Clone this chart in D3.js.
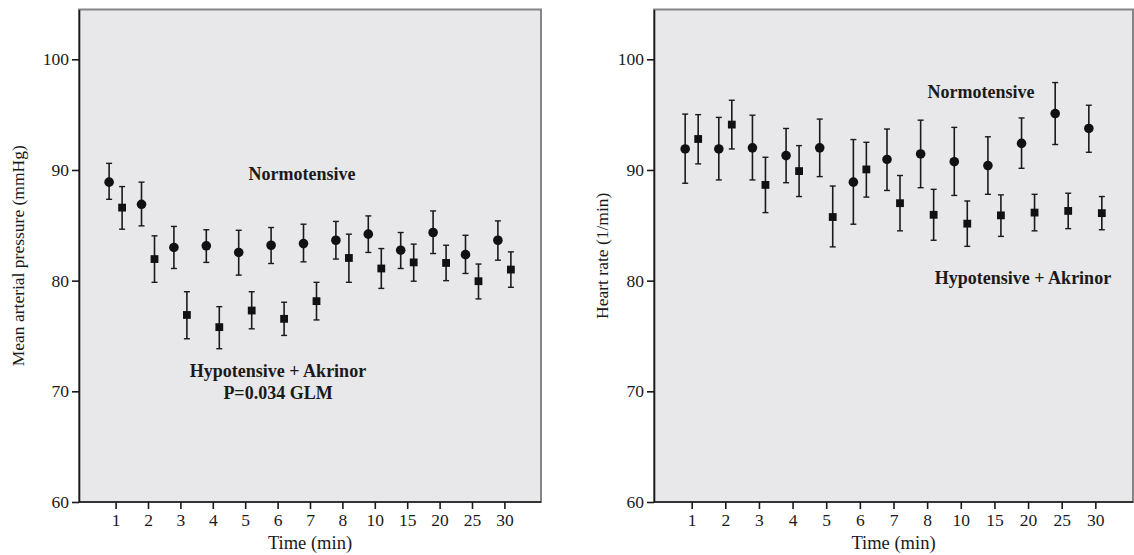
<!DOCTYPE html>
<html lang="en">
<head>
    <meta charset="UTF-8">
    <title>MAP and heart rate</title>
    <script src="https://d3js.org/d3.v7.min.js"></script>
    <style>
        body { margin: 0; background: #ffffff; }
        svg text { font-family: "Liberation Serif", "Times New Roman", serif; fill: #1a1a1a; }
        .tick line, .domain { stroke: #1a1a1a; }
    </style>
</head>
<body>
<div id="chart"></div>
<script>
    // time points (min)
    const times = ['1', '2', '3', '4', '5', '6', '7', '8', '10', '15', '20', '25', '30'];
    const yTicks = [60, 70, 80, 90, 100];

    // mean arterial pressure (mmHg): mean, lower, upper
    const mapNormo = [88.9, 86.9, 83.0, 83.15, 82.55, 83.2, 83.35, 83.65, 84.2, 82.75, 84.35, 82.35, 83.65];
    const mapNormoLo = [87.35, 84.95, 81.1, 81.65, 80.5, 81.55, 81.7, 81.95, 82.55, 81.1, 82.45, 80.65, 81.85];
    const mapNormoHi = [90.6, 88.9, 84.9, 84.6, 84.55, 84.8, 85.1, 85.35, 85.85, 84.35, 86.3, 84.1, 85.4];
    const mapHypo = [86.6, 81.95, 76.9, 75.8, 77.3, 76.55, 78.15, 82.05, 81.1, 81.65, 81.6, 79.95, 81.0];
    const mapHypoLo = [84.65, 79.85, 74.75, 73.85, 75.65, 75.05, 76.45, 79.85, 79.3, 79.95, 80.0, 78.35, 79.4];
    const mapHypoHi = [88.5, 84.05, 79.0, 77.65, 79.0, 78.05, 79.85, 84.2, 82.9, 83.3, 83.2, 81.5, 82.6];

    // heart rate (1/min): mean, lower, upper
    const hrNormo = [91.9, 91.9, 92.0, 91.3, 92.0, 88.9, 90.95, 91.45, 90.75, 90.4, 92.4, 95.1, 93.75];
    const hrNormoLo = [88.8, 89.1, 89.1, 88.85, 89.4, 85.1, 88.15, 88.4, 87.7, 87.8, 90.15, 92.3, 91.6];
    const hrNormoHi = [95.05, 94.75, 94.95, 93.75, 94.6, 92.75, 93.7, 94.5, 93.85, 93.0, 94.7, 97.9, 95.85];
    const hrHypo = [92.8, 94.1, 88.65, 89.9, 85.75, 90.05, 87.0, 85.95, 85.15, 85.9, 86.15, 86.3, 86.1];
    const hrHypoLo = [90.55, 91.9, 86.15, 87.6, 83.05, 87.55, 84.5, 83.65, 83.1, 84.0, 84.5, 84.7, 84.6];
    const hrHypoHi = [95.0, 96.3, 91.15, 92.2, 88.55, 92.5, 89.5, 88.25, 87.2, 87.75, 87.8, 87.9, 87.6];

    const width = 1134, height = 555;
    const svg = d3.select('#chart').append('svg')
        .attr('width', width)
        .attr('height', height);

    const y = d3.scaleLinear().domain([60, 104.5]).range([502, 9.5]);

    function series(mean, lo, hi) {
        return times.map((t, i) => ({ t, m: mean[i], lo: lo[i], hi: hi[i] }));
    }

    function panel(opt) {
        const x = d3.scalePoint().domain(times).range([opt.x0, opt.x1]).padding(opt.pad);
        const g = svg.append('g');

        // plot background and frame
        g.append('rect')
            .attr('x', opt.x0).attr('y', y.range()[1])
            .attr('width', opt.x1 - opt.x0).attr('height', y.range()[0] - y.range()[1])
            .attr('fill', '#e8e8ea')
            .attr('stroke', '#858585')
            .attr('stroke-width', 2);

        // axes
        g.append('g')
            .attr('transform', `translate(${opt.x0},0)`)
            .call(d3.axisLeft(y).tickValues(yTicks).tickSize(7).tickSizeOuter(0).tickPadding(3))
            .call(a => a.selectAll('text').style('font-size', '17.5px'))
            .call(a => a.selectAll('line, path').attr('stroke-width', 1.6));

        g.append('g')
            .attr('transform', `translate(0,${y(60)})`)
            .call(d3.axisBottom(x).tickSize(7).tickSizeOuter(0).tickPadding(5))
            .call(a => a.select('.domain').attr('d', `M${opt.x0},0H${opt.x1}`))
            .call(a => a.selectAll('text').style('font-size', '17.5px'))
            .call(a => a.selectAll('line, path').attr('stroke-width', 1.6));

        // axis titles
        g.append('text')
            .attr('x', (opt.x0 + opt.x1) / 2).attr('y', 549)
            .attr('text-anchor', 'middle')
            .style('font-size', '18.5px')
            .text('Time (min)');

        g.append('text')
            .attr('transform', `translate(${opt.labelX},${(y(60) + y.range()[1]) / 2}) rotate(-90)`)
            .attr('text-anchor', 'middle')
            .attr('dy', '0.35em')
            .style('font-size', '17.5px')
            .text(opt.yLabel);

        // error bars + markers
        opt.groups.forEach(grp => {
            const data = series(grp.mean, grp.lo, grp.hi);
            const cx = d => x(d.t) + grp.dx;
            const bars = g.append('g').selectAll('g').data(data).join('g');
            bars.append('line')
                .attr('x1', cx).attr('x2', cx)
                .attr('y1', d => y(d.lo)).attr('y2', d => y(d.hi))
                .attr('stroke', '#1a1a1a').attr('stroke-width', 1.6);
            [d => d.lo, d => d.hi].forEach(f => {
                bars.append('line')
                    .attr('x1', d => cx(d) - 3).attr('x2', d => cx(d) + 3)
                    .attr('y1', d => y(f(d))).attr('y2', d => y(f(d)))
                    .attr('stroke', '#1a1a1a').attr('stroke-width', 1.4);
            });
            if (grp.shape === 'circle') {
                bars.append('circle')
                    .attr('cx', cx).attr('cy', d => y(d.m))
                    .attr('r', 4.8).attr('fill', '#111');
            } else {
                bars.append('rect')
                    .attr('x', d => cx(d) - 3.9).attr('y', d => y(d.m) - 3.9)
                    .attr('width', 7.8).attr('height', 7.8).attr('fill', '#111');
            }
        });

        // group annotations
        opt.notes.forEach(n => {
            g.append('text')
                .attr('x', n.x).attr('y', n.y)
                .attr('text-anchor', 'middle')
                .style('font-size', '18px')
                .style('font-weight', 'bold')
                .text(n.text);
        });
    }

    panel({
        x0: 79, x1: 541, pad: 1.13, labelX: 18,
        yLabel: 'Mean arterial pressure (mmHg)',
        groups: [
            { mean: mapNormo, lo: mapNormoLo, hi: mapNormoHi, shape: 'circle', dx: -6.5 },
            { mean: mapHypo, lo: mapHypoLo, hi: mapHypoHi, shape: 'square', dx: 6.5 }
        ],
        notes: [
            { text: 'Normotensive', x: 302, y: 180 },
            { text: 'Hypotensive + Akrinor', x: 278, y: 377 },
            { text: 'P=0.034 GLM', x: 278, y: 399 }
        ]
    });

    panel({
        x0: 654, x1: 1133, pad: 1.12, labelX: 602,
        yLabel: 'Heart rate (1/min)',
        groups: [
            { mean: hrNormo, lo: hrNormoLo, hi: hrNormoHi, shape: 'circle', dx: -6.5 },
            { mean: hrHypo, lo: hrHypoLo, hi: hrHypoHi, shape: 'square', dx: 6.5 }
        ],
        notes: [
            { text: 'Normotensive', x: 981, y: 98 },
            { text: 'Hypotensive + Akrinor', x: 1023, y: 284 }
        ]
    });
</script>
</body>
</html>
